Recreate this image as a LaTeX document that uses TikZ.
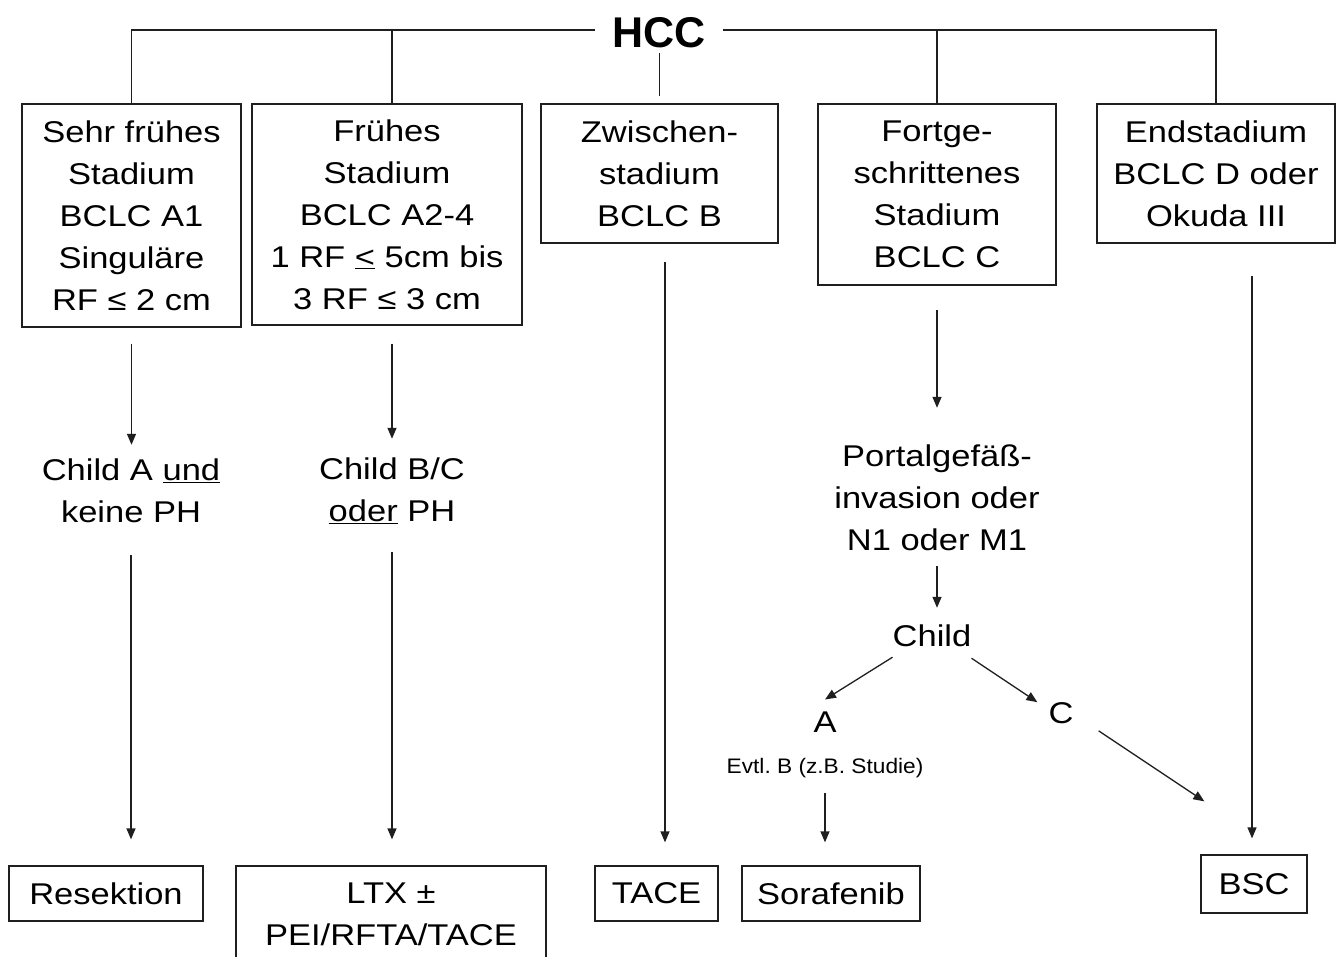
\documentclass[tikz,border=0pt]{standalone}
\usepackage{fontspec}
\setmainfont{Liberation Sans}[FakeStretch=1.15]
\newfontfamily\hccfont{Liberation Sans}
\newfontfamily\evfont{Liberation Sans}[FakeStretch=1.08]
\usetikzlibrary{arrows.meta}
\definecolor{linecol}{gray}{0.12}
\newcommand\mainsz{\fontsize{30}{42}\selectfont}
\frenchspacing
\tikzset{
  stagebox/.style={draw=linecol, line width=1.3pt, inner sep=0pt, align=center, font=\mainsz},
  plaintext/.style={inner sep=0pt, align=center, font=\mainsz},
  conn/.style={draw=linecol, line width=1.3pt},
  arr/.style={conn, -{Triangle[length=11pt,width=9pt]}},
}
\begin{document}
\begin{tikzpicture}[x=1pt,y=-1pt]
\fill[white] (0,0) rectangle (1337,956);
\useasboundingbox (0,0) rectangle (1337,956);
\clip (0,0) rectangle (1337,956);

\node[font=\hccfont\bfseries\fontsize{43}{50}\selectfont, inner xsep=17pt, inner ysep=5pt] (h) at (659,33) {HCC};

\node[stagebox, minimum width=219pt, minimum height=223pt] (b1) at (131.5,215.5) {Sehr frühes\\Stadium\\BCLC A1\\Singuläre\\RF ≤ 2 cm};
\node[stagebox, minimum width=270pt, minimum height=221pt] (b2) at (387,214.5) {Frühes\\Stadium\\BCLC A2-4\\1 RF \underline{<} 5cm bis\\3 RF ≤ 3 cm};
\node[stagebox, minimum width=237pt, minimum height=139pt] (b3) at (659.5,173.5) {Zwischen-\\stadium\\BCLC B};
\node[stagebox, minimum width=238pt, minimum height=181pt] (b4) at (937,194.5) {Fortge-\\schrittenes\\Stadium\\BCLC C};
\node[stagebox, minimum width=238pt, minimum height=139pt] (b5) at (1216,173.5) {Endstadium\\BCLC D oder\\Okuda III};

\node[plaintext] (c1) at (131,491) {Child A \underline{und}\\keine PH};
\node[plaintext] (c2) at (392,491) {Child B/C\\\underline{oder} PH};
\node[plaintext] (p) at (937,498) {Portalgefäß-\\invasion oder\\N1 oder M1};
\node[plaintext] (ch) at (932,636) {Child};
\node[plaintext] (a) at (825,722) {A};
\node[plaintext] (cc) at (1061,713) {C};
\node[inner sep=0pt, font=\evfont\fontsize{21}{25}\selectfont] (ev) at (825,768) {Evtl. B (z.B. Studie)};

\node[stagebox, minimum width=194pt, minimum height=55pt] (res) at (106,893.5) {Resektion};
\node[stagebox, minimum width=310pt, minimum height=96pt] (ltx) at (391,914) {LTX ±\\PEI/RFTA/TACE};
\node[stagebox, minimum width=123pt, minimum height=55pt] (tace) at (656.5,893.5) {TACE};
\node[stagebox, minimum width=178pt, minimum height=55pt] (sor) at (831,893.5) {Sorafenib};
\node[stagebox, minimum width=106pt, minimum height=58pt] (bsc) at (1254,884) {BSC};

\coordinate (hl) at ([yshift=3pt]h.west);
\coordinate (hr) at ([yshift=3pt]h.east);
\coordinate (b2t) at ([xshift=5pt]b2.north);
\draw[conn] (hl) -| (b1.north);
\draw[conn] (b2t |- hl) -- (b2t);
\draw[conn, shorten >=7pt] (h.south -| b3.north) -- (b3.north);
\draw[conn] (hr) -| (b5.north);
\draw[conn] (b4.north |- hr) -- (b4.north);

\draw[arr, shorten <=16pt, shorten >=14pt] (b1.south) -- (b1.south |- c1.north);
\draw[arr, shorten <=32pt, shorten >=26pt] (c1.south) -- (c1.south |- res.north);
\coordinate (b2b) at ([xshift=5pt]b2.south);
\draw[arr, shorten <=18pt, shorten >=19pt] (b2b) -- (b2b |- c2.north);
\draw[arr, shorten <=28pt, shorten >=26pt] (c2.south) -- (c2.south |- ltx.north);
\coordinate (b3b) at ([xshift=5.5pt]b3.south);
\draw[arr, shorten <=18.5pt, shorten >=23pt] (b3b) -- (b3b |- tace.north);
\draw[arr, shorten <=24.5pt, shorten >=37pt] (b4.south) -- (b4.south |- p.north);
\draw[arr, shorten <=15pt, shorten >=17pt] (p.south) -- (p.south |- ch.north);
\draw[arr] ([yshift=-10pt]ch.south west) -- ([yshift=12pt]a.north);
\draw[arr] ([yshift=-11pt]ch.south east) -- ([xshift=-11pt]cc.north west);
\draw[arr] ([shift={(25pt,-7pt)}]cc.south east) -- ([shift={(4pt,53pt)}]bsc.north west);
\draw[arr, shorten <=15pt, shorten >=23pt] (ev.south) -- (ev.south |- sor.north);
\coordinate (b5b) at ([xshift=36pt]b5.south);
\draw[arr, shorten <=32pt, shorten >=16pt] (b5b) -- (b5b |- bsc.north);
\end{tikzpicture}
\end{document}
